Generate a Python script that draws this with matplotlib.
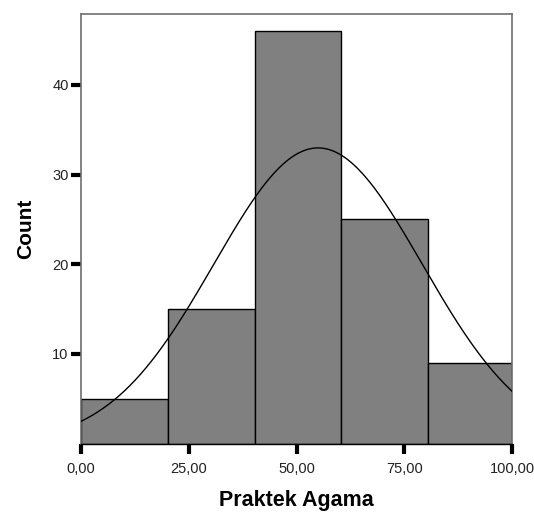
import numpy as np
import matplotlib
matplotlib.use("Agg")
import matplotlib.pyplot as plt

# Histogram of "Praktek Agama" scores (N = 100)
bin_edges = [0.0, 20.3, 40.4, 60.3, 80.4, 100.0]
counts = [5, 15, 46, 25, 9]
x_ticks = [0, 25, 50, 75, 100]
x_tick_labels = ["0,00", "25,00", "50,00", "75,00", "100,00"]
y_ticks = [10, 20, 30, 40]
y_tick_labels = ["10", "20", "30", "40"]

# Fitted normal curve parameters
mean_score = 55.0
sd_score = 24.2
n_cases = sum(counts)
bin_width = 20.0

plt.rcParams["font.family"] = ["Liberation Sans", "DejaVu Sans"]

fig = plt.figure(figsize=(5.34, 5.12), dpi=100)
ax = fig.add_axes([0.1517, 0.1334, 0.8071, 0.8393])

lefts = bin_edges[:-1]
widths = np.diff(bin_edges)
ax.bar(lefts, counts, width=widths, align="edge",
       color="#808080", edgecolor="black", linewidth=1.0, zorder=2)

xs = np.linspace(0, 100, 400)
curve = n_cases * bin_width / (sd_score * np.sqrt(2 * np.pi)) * \
    np.exp(-0.5 * ((xs - mean_score) / sd_score) ** 2)
ax.plot(xs, curve, color="black", linewidth=1.0, zorder=3)

ax.set_xlim(0, 100)
ax.set_ylim(0, 47.9)

for side in ["left", "top", "right"]:
    ax.spines[side].set_color("#6e6e6e")
    ax.spines[side].set_linewidth(1.2)
ax.spines["bottom"].set_color("black")
ax.spines["bottom"].set_linewidth(1.0)

ax.set_xticks(x_ticks)
ax.set_xticklabels(x_tick_labels)
ax.set_yticks(y_ticks)
ax.set_yticklabels(y_tick_labels)
ax.tick_params(axis="both", direction="out", length=7, width=3,
               color="black", labelsize=10.5, labelcolor="#222222")
ax.tick_params(axis="x", pad=6)
ax.tick_params(axis="y", pad=2)

ax.set_xlabel("Praktek Agama", fontsize=15.5, fontweight="bold", labelpad=10)
ax.set_ylabel("Count", fontsize=15, fontweight="bold", labelpad=12)

fig.savefig("out.png", dpi=100)
